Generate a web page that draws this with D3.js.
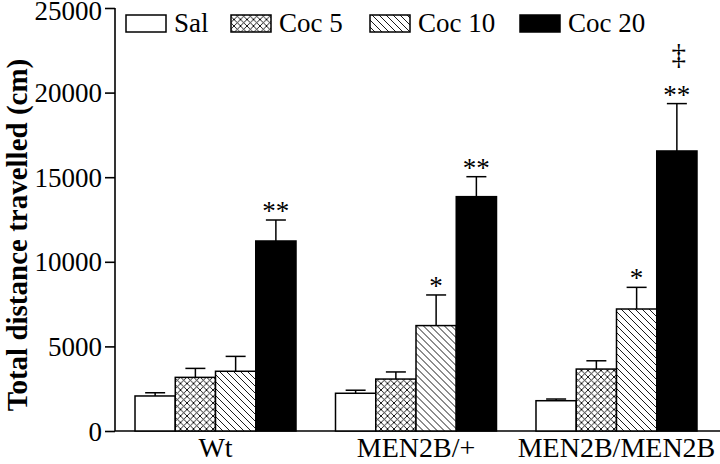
<!DOCTYPE html>
<html><head><meta charset="utf-8">
<script src="https://cdn.jsdelivr.net/npm/d3@7"></script>
<style>body{margin:0;background:#fff;} svg{display:block;font-family:"Liberation Serif","Times New Roman",serif;}</style>
</head><body>
<svg id="c" width="720" height="464"></svg>
<script>
const groups = ["Wt", "MEN2B/+", "MEN2B/MEN2B"];
const seriesNames = ["Sal", "Coc 5", "Coc 10", "Coc 20"];
const salMean = [2070, 2230, 1790];
const coc5Mean = [3170, 3070, 3660];
const coc10Mean = [3530, 6230, 7210];
const coc20Mean = [11230, 13850, 16550];
const salErr = [190, 180, 100];
const coc5Err = [530, 420, 490];
const coc10Err = [880, 1810, 1280];
const coc20Err = [1240, 1180, 2800];
const sigMarks = [["", "", "", "**"], ["", "", "*", "**"], ["", "", "*", "**"]];
const extraMarks = [["", "", "", ""], ["", "", "", ""], ["", "", "", "‡"]];
const yTicks = [0, 5000, 10000, 15000, 20000, 25000];

const means = [salMean, coc5Mean, coc10Mean, coc20Mean];
const errs = [salErr, coc5Err, coc10Err, coc20Err];

const svg = d3.select("#c");
const defs = svg.append("defs");
const pc = defs.append("pattern").attr("id","cross").attr("patternUnits","userSpaceOnUse").attr("width",6.5).attr("height",6.5);
pc.append("rect").attr("width",6.5).attr("height",6.5).attr("fill","#fff");
pc.append("path").attr("d","M0,0L6.5,6.5M6.5,0L0,6.5M-1,5.5L1,7.5M5.5,-1L7.5,1M-1,1L1,-1M5.5,7.5L7.5,5.5").attr("stroke","#000").attr("stroke-width",0.9);
const pd = defs.append("pattern").attr("id","diag").attr("patternUnits","userSpaceOnUse").attr("width",7).attr("height",7);
pd.append("rect").attr("width",7).attr("height",7).attr("fill","#fff");
pd.append("path").attr("d","M0,0L7,7M-1,6L1,8M6,-1L8,1").attr("stroke","#000").attr("stroke-width",0.9);
const fills = ["#fff", "url(#cross)", "url(#diag)", "#000"];

const mLeft = 115, mTop = 8, mBottom = 431;
const y = d3.scaleLinear().domain([0, 25000]).range([mBottom, mTop]);
const x0 = d3.scaleBand().domain(groups).range([115, 717]).paddingInner(0.197).paddingOuter(0.0998);
const x1 = d3.scaleBand().domain(seriesNames).range([0, x0.bandwidth()]).padding(0);

const yAxis = d3.axisLeft(y).tickValues(yTicks).tickSize(10).tickPadding(3).tickFormat(d3.format("d"));
const ga = svg.append("g").attr("transform", `translate(${mLeft},0)`).call(yAxis);
ga.select(".domain").attr("d", `M0,${mTop}V${mBottom}`).attr("stroke-width",1.6);
ga.selectAll(".tick line").attr("stroke-width",1.6);
ga.selectAll(".tick text").attr("font-size",27).attr("font-family","Liberation Serif").attr("fill","#000")
  .attr("dy", d => d === 25000 ? "0.42em" : "0.34em");

svg.append("line").attr("x1",mLeft).attr("x2",720).attr("y1",mBottom).attr("y2",mBottom).attr("stroke","#000").attr("stroke-width",1.6);
svg.selectAll(".xl").data(groups).enter().append("text")
  .attr("x", d => x0(d) + x0.bandwidth()/2).attr("y", 457)
  .attr("text-anchor","middle").attr("font-size",28).text(d => d);

svg.append("text").attr("transform","translate(27,235) rotate(-90)").attr("text-anchor","middle")
  .attr("font-size",29).attr("font-weight","bold").text("Total distance travelled (cm)");

groups.forEach((g, gi) => {
  const gg = svg.append("g").attr("transform", `translate(${x0(g)},0)`);
  seriesNames.forEach((s, si) => {
    const v = means[si][gi], e = errs[si][gi];
    const bx = x1(s), bw = x1.bandwidth(), cx = bx + bw/2;
    gg.append("line").attr("x1",cx).attr("x2",cx).attr("y1",y(v)).attr("y2",y(v+e)).attr("stroke","#000").attr("stroke-width",1.5);
    gg.append("line").attr("x1",cx-10).attr("x2",cx+10).attr("y1",y(v+e)).attr("y2",y(v+e)).attr("stroke","#000").attr("stroke-width",1.5);
    gg.append("rect").attr("x",bx).attr("y",y(v)).attr("width",bw).attr("height",mBottom - y(v))
      .attr("fill",fills[si]).attr("stroke","#000").attr("stroke-width",1.5);
    const m = sigMarks[gi][si];
    if (m) gg.append("text").attr("x",cx).attr("y",y(v+e)).attr("text-anchor","middle").attr("font-size",27).text(m);
    const xm = extraMarks[gi][si];
    if (xm) gg.append("text").attr("x",cx+2).attr("y",y(v+e)-40).attr("text-anchor","middle").attr("font-size",29).text(xm);
  });
});

const lg = svg.append("g");
const lx = [126, 231, 370, 520];
seriesNames.forEach((s, i) => {
  lg.append("rect").attr("x", lx[i]).attr("y", 15).attr("width", 40).attr("height", 17)
    .attr("fill", fills[i]).attr("stroke","#000").attr("stroke-width",1.5);
  lg.append("text").attr("x", lx[i] + 48).attr("y", 32).attr("font-size",27).text(s);
});
</script>
</body></html>
